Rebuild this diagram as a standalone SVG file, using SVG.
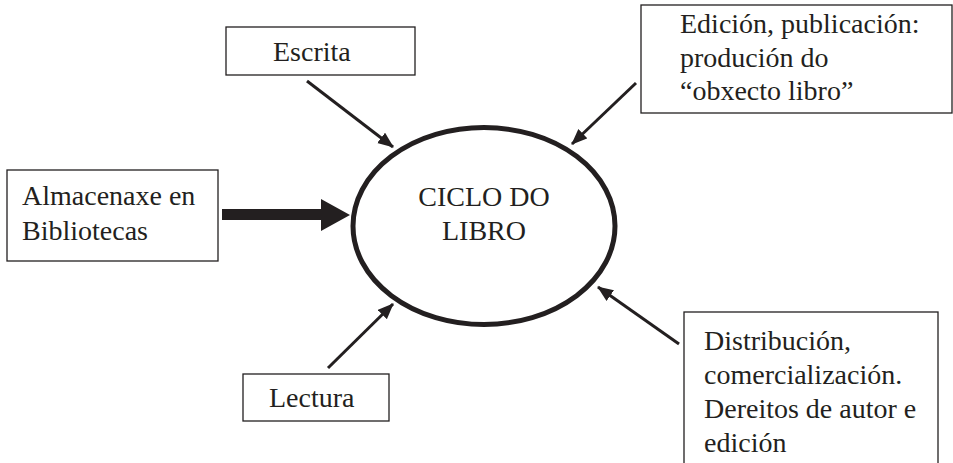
<svg xmlns="http://www.w3.org/2000/svg" width="953" height="463" viewBox="0 0 953 463">
<style>
.box{fill:#fff;stroke:#231f20;stroke-width:1.3}
.t{font-family:"Liberation Serif","Times New Roman",serif;font-size:28px;fill:#231f20}
.arr{stroke:#231f20;stroke-width:3;fill:none;marker-end:url(#ah)}
</style>
<defs>
<marker id="ah" markerUnits="userSpaceOnUse" markerWidth="17" markerHeight="14" refX="15" refY="6.5" orient="auto">
<path d="M0,0 L16,6.5 L0,13 Z" fill="#231f20"/>
</marker>
</defs>
<rect width="953" height="463" fill="#fff"/>
<g id="connectors">
<line class="arr" x1="307" y1="81" x2="393" y2="147"/>
<line class="arr" x1="636" y1="83" x2="572" y2="144"/>
<line class="arr" x1="328" y1="368" x2="393" y2="304"/>
<line class="arr" x1="679" y1="344" x2="598" y2="287"/>
<polygon points="222,209 321,209 321,199 350,215 321,231 321,220 222,220" fill="#231f20"/>
</g>
<g id="ciclo">
<ellipse cx="484" cy="226" rx="131" ry="98.5" fill="#fff" stroke="#231f20" stroke-width="5"/>
<text class="t" x="484" y="206" text-anchor="middle">CICLO DO</text>
<text class="t" x="484" y="240" text-anchor="middle">LIBRO</text>
</g>
<g id="escrita">
<rect class="box" x="226" y="27" width="189" height="48"/>
<text class="t" x="273" y="61">Escrita</text>
</g>
<g id="edicion">
<rect class="box" x="641" y="5" width="311" height="108"/>
<text class="t" x="680" y="33">Edición, publicación:</text>
<text class="t" x="680" y="67">produción do</text>
<text class="t" x="680" y="100">“obxecto libro”</text>
</g>
<g id="almacenaxe">
<rect class="box" x="7" y="170" width="211" height="91"/>
<text class="t" x="22" y="205">Almacenaxe en</text>
<text class="t" x="22" y="240">Bibliotecas</text>
</g>
<g id="lectura">
<rect class="box" x="243" y="374" width="146" height="47"/>
<text class="t" x="269" y="407">Lectura</text>
</g>
<g id="distribucion">
<rect class="box" x="684" y="312" width="254" height="160"/>
<text class="t" x="704" y="350">Distribución,</text>
<text class="t" x="704" y="384">comercialización.</text>
<text class="t" x="704" y="418">Dereitos de autor e</text>
<text class="t" x="704" y="452">edición</text>
</g>
</svg>
